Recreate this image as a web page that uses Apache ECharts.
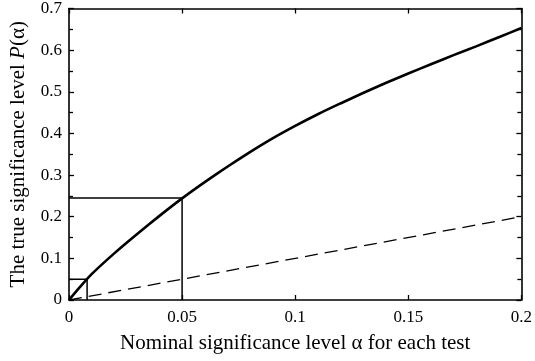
<!DOCTYPE html>
<html>
<head>
<meta charset="utf-8">
<script src="https://cdn.jsdelivr.net/npm/echarts@6/dist/echarts.min.js"></script>
<style>html,body{margin:0;padding:0;background:#fff;}#c{width:535px;height:361px;}</style>
</head>
<body>
<div id="c"></div>
<script>
// Nominal significance level alpha (x) and true significance level P(alpha) (y)
const alphaVals = [0, 0.005, 0.01, 0.02, 0.03, 0.04, 0.05, 0.06, 0.07, 0.08, 0.09, 0.1, 0.11, 0.12, 0.13, 0.14, 0.15, 0.16, 0.17, 0.18, 0.19, 0.2];
const trueVals  = [0, 0.032, 0.062, 0.112, 0.158, 0.202, 0.244, 0.283, 0.32, 0.355, 0.388, 0.418, 0.446, 0.472, 0.497, 0.521, 0.544, 0.566, 0.588, 0.609, 0.631, 0.653];
// reference line P = alpha
const diagX = [0, 0.2];
const diagY = [0, 0.2];
// guide lines
const guideBigX = [0, 0.05, 0.05];
const guideBigY = [0.245, 0.245, 0];
const guideSmallX = [0, 0.008, 0.008];
const guideSmallY = [0.05, 0.05, 0];
const xTicks = ['0', '0.05', '0.1', '0.15', '0.2'];
const yTicks = ['0', '0.1', '0.2', '0.3', '0.4', '0.5', '0.6', '0.7'];

const zip = (a, b) => a.map((v, i) => [v, b[i]]);
const font = 'Liberation Serif';
const axLine = { show: true, onZero: false, lineStyle: { color: '#000', width: 1.6 } };
const tick = { show: true, inside: true, length: 5, lineStyle: { color: '#000', width: 1.3 } };
const minor = { show: true, splitNumber: 2, length: 4, lineStyle: { color: '#000', width: 1.3 } };

const chart = echarts.init(document.getElementById('c'), null, { renderer: 'canvas' });
chart.setOption({
  animation: false,
  backgroundColor: '#fff',
  grid: { left: 69, right: 12, top: 6, bottom: 61, containLabel: false },
  xAxis: [{
    type: 'value', min: 0, max: 0.2, interval: 0.05, position: 'bottom',
    axisLine: axLine, axisTick: tick,
    axisLabel: { color: '#000', fontFamily: font, fontSize: 17, margin: 9,
      formatter: v => xTicks[Math.round(v / 0.05)] },
    splitLine: { show: false },
    name: 'Nominal significance level α for each test',
    nameLocation: 'middle', nameGap: 33,
    nameTextStyle: { color: '#000', fontFamily: font, fontSize: 21 }
  }, {
    type: 'value', min: 0, max: 0.2, interval: 0.05, position: 'top',
    axisLine: axLine, axisTick: tick,
    axisLabel: { show: false }, splitLine: { show: false }
  }],
  yAxis: [{
    type: 'value', min: 0, max: 0.7, interval: 0.1, position: 'left',
    axisLine: axLine, axisTick: tick, minorTick: minor,
    axisLabel: { color: '#000', fontFamily: font, fontSize: 17, margin: 7,
      formatter: v => yTicks[Math.round(v / 0.1)] },
    splitLine: { show: false },
    name: 'The true significance level {i|P}(α)',
    nameLocation: 'middle', nameGap: 40, nameRotate: 90,
    nameTextStyle: { color: '#000', fontFamily: font, fontSize: 21,
      rich: { i: { fontStyle: 'italic', fontFamily: font, fontSize: 21, color: '#000' } } }
  }, {
    type: 'value', min: 0, max: 0.7, interval: 0.1, position: 'right',
    axisLine: axLine, axisTick: tick, minorTick: minor,
    axisLabel: { show: false }, splitLine: { show: false }
  }],
  series: [{
    type: 'line', xAxisIndex: 0, yAxisIndex: 0, data: zip(guideBigX, guideBigY),
    symbol: 'none', lineStyle: { color: '#000', width: 1.5 }
  }, {
    type: 'line', xAxisIndex: 0, yAxisIndex: 0, data: zip(guideSmallX, guideSmallY),
    symbol: 'none', lineStyle: { color: '#000', width: 1.5 }
  }, {
    type: 'line', xAxisIndex: 0, yAxisIndex: 0, data: zip(diagX, diagY),
    symbol: 'none', lineStyle: { color: '#000', width: 1.3, type: [13, 7] }
  }, {
    type: 'line', xAxisIndex: 0, yAxisIndex: 0, data: zip(alphaVals, trueVals),
    symbol: 'none', smooth: 0.2, lineStyle: { color: '#000', width: 2.6 }
  }]
});
</script>
</body>
</html>
